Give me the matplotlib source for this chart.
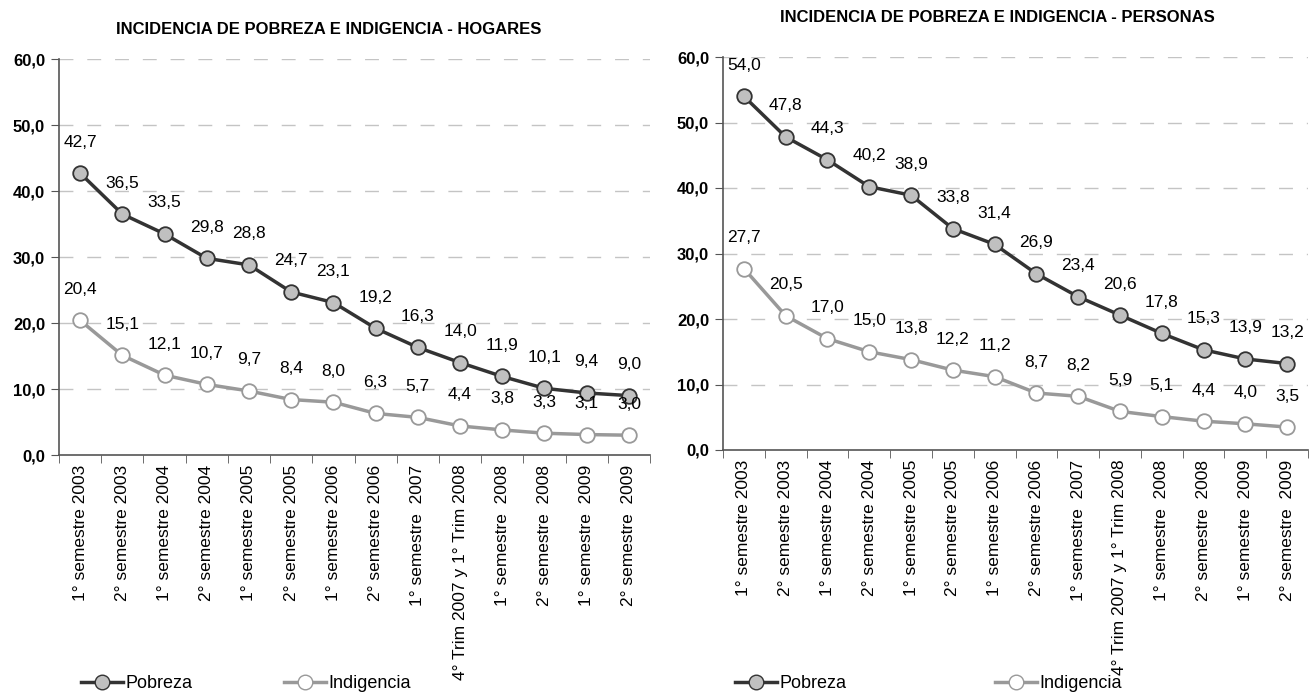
import matplotlib
matplotlib.use("Agg")
import matplotlib.pyplot as plt
from matplotlib.lines import Line2D

plt.rcParams['font.family'] = ['Liberation Sans', 'DejaVu Sans']

categories = ["1° semestre 2003", "2° semestre 2003", "1° semestre 2004", "2° semestre 2004",
              "1° semestre 2005", "2° semestre 2005", "1° semestre 2006", "2° semestre 2006",
              "1° semestre  2007", "4° Trim 2007 y 1° Trim 2008", "1° semestre  2008",
              "2° semestre  2008", "1° semestre  2009", "2° semestre  2009"]

hogares_pobreza = [42.7, 36.5, 33.5, 29.8, 28.8, 24.7, 23.1, 19.2, 16.3, 14.0, 11.9, 10.1, 9.4, 9.0]
hogares_indigencia = [20.4, 15.1, 12.1, 10.7, 9.7, 8.4, 8.0, 6.3, 5.7, 4.4, 3.8, 3.3, 3.1, 3.0]
personas_pobreza = [54.0, 47.8, 44.3, 40.2, 38.9, 33.8, 31.4, 26.9, 23.4, 20.6, 17.8, 15.3, 13.9, 13.2]
personas_indigencia = [27.7, 20.5, 17.0, 15.0, 13.8, 12.2, 11.2, 8.7, 8.2, 5.9, 5.1, 4.4, 4.0, 3.5]

yticks = [0, 10, 20, 30, 40, 50, 60]

LABEL_OFFSET = 31  # pixels above marker
DARK = '#333333'
GREY = '#999999'

fig = plt.figure(figsize=(13.1, 6.95), dpi=100)
ax1 = fig.add_axes([59/1310, 1-455/695, (650-59)/1310, (455-59)/695])
ax2 = fig.add_axes([723/1310, 1-450/695, (1308-723)/1310, (450-57)/695])


def fmt(v):
    return f"{v:.1f}".replace('.', ',')


def draw(ax, pob, ind, title, title_x, title_y):
    x = list(range(len(categories)))
    ax.set_xlim(-0.5, len(categories) - 0.5)
    ax.set_ylim(0, 60)
    ax.set_yticks(yticks)
    ax.set_yticklabels([fmt(v) for v in yticks], fontsize=12, fontweight='bold')
    for v in yticks[1:]:
        ax.axhline(v, color='#c4c4c4', lw=1, dashes=(10, 10), zorder=0)
    ax.plot(x, ind, color=GREY, lw=2.5, marker='o', markersize=10.5,
            markerfacecolor='white', markeredgecolor=GREY, markeredgewidth=1.3, zorder=3)
    ax.plot(x, pob, color=DARK, lw=2.5, marker='o', markersize=10.5,
            markerfacecolor='#c0c0c0', markeredgecolor=DARK, markeredgewidth=1.3, zorder=4)
    for i in x:
        for v in (pob[i], ind[i]):
            ax.annotate(fmt(v), (i, v), xytext=(0, LABEL_OFFSET), textcoords='offset pixels',
                        ha='center', va='center', fontsize=12.5, color='black', zorder=5)
    ax.set_xticks(x)
    ax.set_xticklabels(categories, rotation=90, fontsize=12.5, va='top', ha='center')
    ax.set_xticks([i - 0.5 for i in range(len(categories) + 1)], minor=True)
    ax.tick_params(axis='x', which='major', length=0, pad=7)
    ax.tick_params(axis='x', which='minor', length=6, direction='out', color='#555555')
    ax.tick_params(axis='y', length=6, direction='out', color='#555555', pad=4)
    for s in ['top', 'right']:
        ax.spines[s].set_visible(False)
    for s in ['left', 'bottom']:
        ax.spines[s].set_color('#555555')
        ax.spines[s].set_linewidth(1.2)
    fig.text(title_x / 1310, 1 - title_y / 695, title,
             ha='center', va='center', fontsize=12, fontweight='bold')


draw(ax1, hogares_pobreza, hogares_indigencia,
     "INCIDENCIA DE POBREZA E INDIGENCIA - HOGARES", 329, 30)
draw(ax2, personas_pobreza, personas_indigencia,
     "INCIDENCIA DE POBREZA E INDIGENCIA - PERSONAS", 997, 17)

h_pob = Line2D([], [], color=DARK, lw=2.5, marker='o', markersize=10.5,
               markerfacecolor='#c0c0c0', markeredgecolor=DARK)
h_ind = Line2D([], [], color=GREY, lw=2.5, marker='o', markersize=10.5,
               markerfacecolor='white', markeredgecolor=GREY)

for (x0, h, lab) in [(81, h_pob, 'Pobreza'), (284, h_ind, 'Indigencia'),
                     (735, h_pob, 'Pobreza'), (995, h_ind, 'Indigencia')]:
    fig.legend(handles=[h], labels=[lab], loc='center left',
               bbox_to_anchor=(x0/1310, 1 - 684/695), frameon=False, fontsize=13,
               handlelength=2.3, handletextpad=0.15, borderpad=0, borderaxespad=0)

fig.savefig('out.png', dpi=100)
